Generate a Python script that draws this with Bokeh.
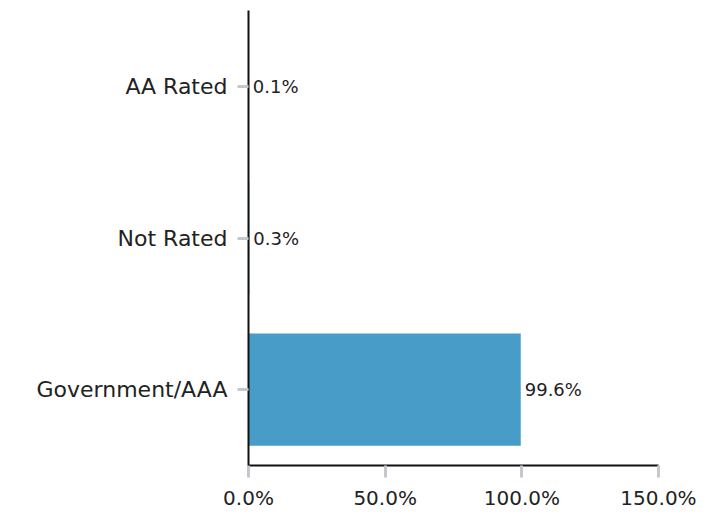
from bokeh.plotting import figure
from bokeh.models import Range1d, FactorRange, ColumnDataSource, FixedTicker, LabelSet
from bokeh.core.properties import value
from bokeh.embed import file_html
from bokeh.resources import INLINE

categories = ["Government/AAA", "Not Rated", "AA Rated"]
values = [99.6, 0.3, 0.1]
value_labels = ["99.6%", "0.3%", "0.1%"]
x_ticks = [0, 50, 100, 150]
x_tick_labels = ["0.0%", "50.0%", "100.0%", "150.0%"]

FONT = "DejaVu Sans"

src = ColumnDataSource(dict(cat=categories, val=values, lab=value_labels))

p = figure(width=705, height=512, output_backend="svg", toolbar_location=None,
           x_range=Range1d(0, 150), y_range=FactorRange(factors=categories, range_padding=0),
           min_border_left=248, min_border_right=47, min_border_top=10, min_border_bottom=47)
p.outline_line_color = None
p.xgrid.visible = False
p.ygrid.visible = False

p.hbar(y="cat", right="val", left=0, height=0.74, source=src, color="#479cc8", line_color=None)

labels = LabelSet(x="val", y="cat", text="lab", source=src, x_offset=4, text_baseline="middle",
                  text_font=value(FONT), text_font_size="18px", text_color="#222222")
p.add_layout(labels)

for ax in (p.xaxis[0], p.yaxis[0]):
    ax.axis_line_color = "#111111"
    ax.axis_line_width = 2
    ax.major_tick_line_color = "#c4c8cc"
    ax.major_tick_line_width = 3
    ax.minor_tick_line_color = None
    ax.major_label_text_font = FONT
    ax.major_label_text_color = "#222222"

p.yaxis.major_label_text_font_size = "22px"
p.xaxis.major_label_text_font_size = "20px"
p.xaxis.ticker = FixedTicker(ticks=x_ticks)
p.xaxis.major_label_overrides = {t: l for t, l in zip(x_ticks, x_tick_labels)}
p.xaxis.major_tick_out = 12
p.xaxis.major_tick_in = 0
p.xaxis.major_label_standoff = 8
p.yaxis.major_tick_out = 11
p.yaxis.major_tick_in = 0
p.yaxis.major_label_standoff = 10

open("out.html", "w").write(file_html(p, INLINE))
